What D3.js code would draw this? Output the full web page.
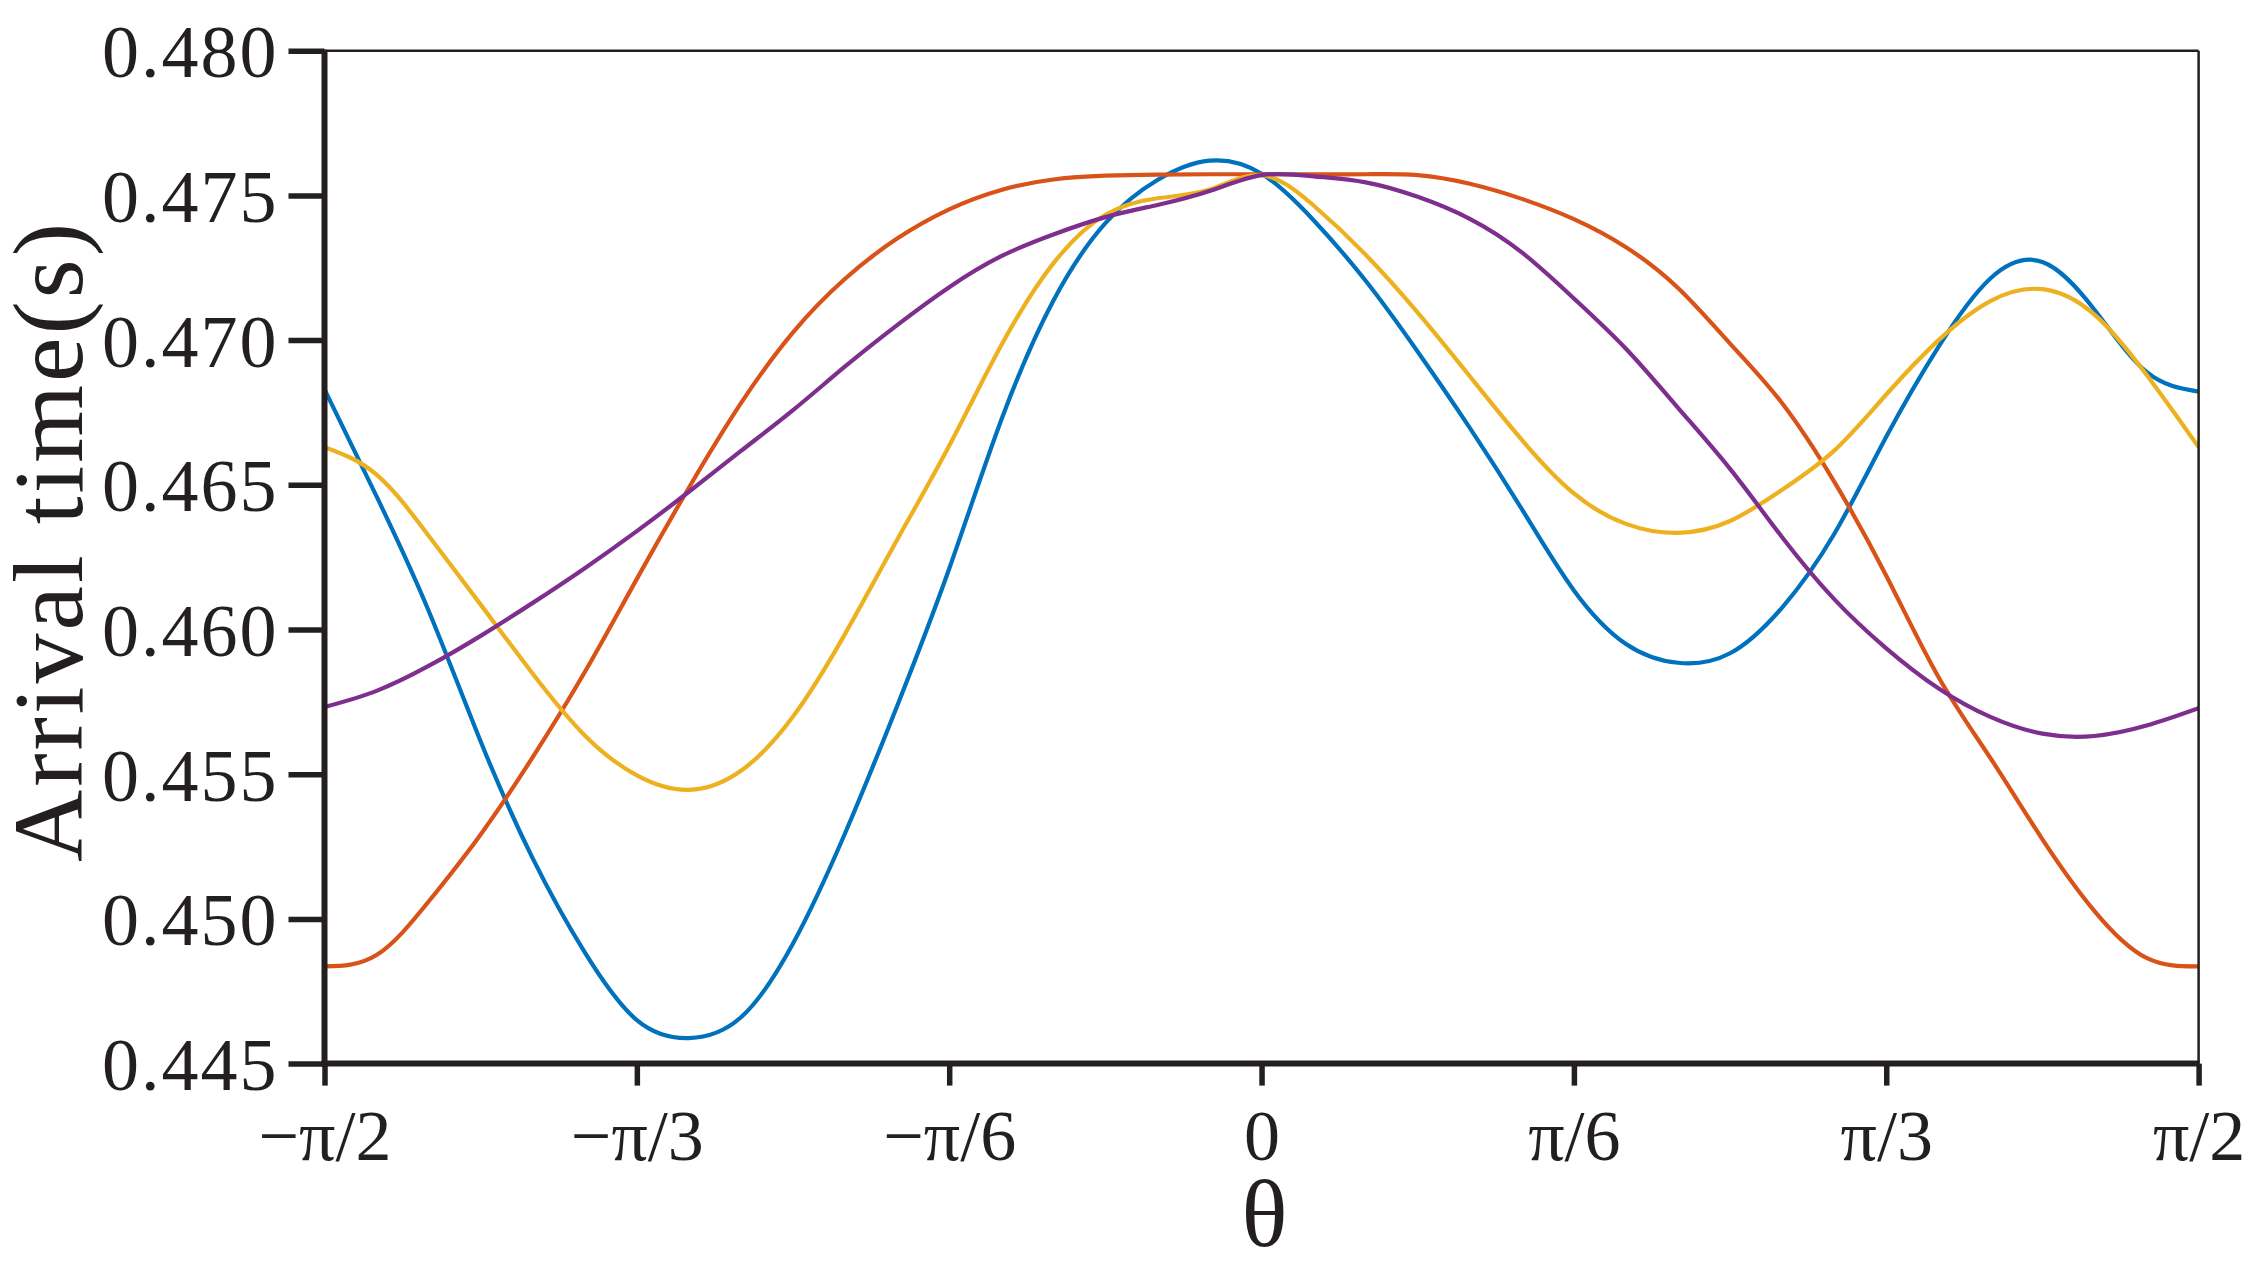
<!DOCTYPE html>
<html>
<head>
<meta charset="utf-8">
<script src="https://cdn.jsdelivr.net/npm/d3@7"></script>
<style>
body { margin: 0; background: #fff; }
#sketch1 { width: 2261px; height: 1266px; }
text { font-family: "Liberation Serif", "Times New Roman", Times, serif; fill: #231f20; }
</style>
</head>
<body>
<div id="sketch1"></div>
<script>
// theta in degrees, -90..90 every 5
var theta = [-90,-85,-80,-75,-70,-65,-60,-55,-50,-45,-40,-35,-30,-25,-20,-15,-10,-5,0,
             5,10,15,20,25,30,35,40,45,50,55,60,65,70,75,80,85,90];

var blue = [0.4683,0.4646,0.46065,0.45613,0.45209,0.44884,0.4465,0.44588,0.4466,0.44915,0.45296,0.45736,0.4621,0.46724,0.47136,0.47404,0.47553,0.4762,0.47575,
            0.47414,0.47205,0.4696,0.46697,0.46416,0.46135,0.4595,0.45885,0.45918,0.46076,0.4633,0.46666,0.46976,0.47213,0.4727,0.47105,0.4689,0.46822];

var orange = [0.44836,0.44875,0.4506,0.45292,0.45559,0.45853,0.46175,0.4649,0.46782,0.47027,0.47212,0.47351,0.47452,0.47519,0.47555,0.47568,0.47572,0.47573,0.47573,
              0.47573,0.47573,0.4757,0.4754,0.47488,0.47418,0.47321,0.4718,0.46988,0.46782,0.46511,0.46186,0.45837,0.45556,0.45275,0.45027,0.44865,0.44836];

var yellow = [0.4663,0.46535,0.46324,0.46086,0.45847,0.45634,0.45496,0.45446,0.45512,0.45699,0.45985,0.4631,0.46635,0.46982,0.47265,0.47433,0.4749,0.4752,0.4757,
              0.47465,0.47295,0.47095,0.46875,0.46655,0.4647,0.46365,0.46334,0.46375,0.46483,0.46618,0.46812,0.46999,0.47135,0.47176,0.47088,0.4688,0.4663];

var purple = [0.45732,0.45788,0.45874,0.45978,0.46092,0.46212,0.4634,0.46476,0.46617,0.46758,0.46909,0.47052,0.47183,0.4729,0.47365,0.47425,0.47467,0.47515,0.4757,
              0.47566,0.47545,0.47495,0.47419,0.47303,0.47144,0.4697,0.46766,0.46555,0.46319,0.46105,0.45935,0.45797,0.45698,0.4564,0.45632,0.45668,0.45728];

var xTicks = [-90,-60,-30,0,30,60,90];
var xTickLabels = ["\u2212\u03c0/2","\u2212\u03c0/3","\u2212\u03c0/6","0","\u03c0/6","\u03c0/3","\u03c0/2"];
var yTicks = [0.445,0.450,0.455,0.460,0.465,0.470,0.475,0.480];

var seriesColors = ["#0072bd","#d95319","#edb120","#7e2f8e"];

var margin = {t:50.7,r:62.4,b:202.4,l:324.5};
var width = document.getElementById('sketch1').clientWidth - margin.r - margin.l,
    height = document.getElementById('sketch1').clientHeight - margin.t - margin.b;

var svg = d3.select('#sketch1')
    .append('svg')
    .attr('width',width+margin.r+margin.l)
    .attr('height',height+margin.t+margin.b);

var plot = svg.append('g')
    .attr('transform','translate('+margin.l+','+margin.t+')');

var scaleX = d3.scaleLinear().domain([-90,90]).range([0,width]);
var scaleY = d3.scaleLinear().domain([0.445,0.480]).range([height,0]);

plot.append("clipPath").attr("id","clip")
    .append("rect").attr("width",width).attr("height",height);

var line = d3.line()
    .x(function(d){return scaleX(d.t)})
    .y(function(d){return scaleY(d.v)})
    .curve(d3.curveNatural);

var allSeries = [blue,orange,yellow,purple];

plot.selectAll(".curve")
    .data(allSeries)
    .enter()
    .append("path")
    .attr("class","curve")
    .attr("clip-path","url(#clip)")
    .attr("d", function(vals){
        return line(vals.map(function(v,i){return {t:theta[i], v:v}}));
    })
    .attr("fill","none")
    .attr("stroke", function(d,i){return seriesColors[i]})
    .attr("stroke-width",4.2);

// box: thin top/right, heavy left/bottom
plot.append("line").attr("x1",0).attr("x2",width).attr("y1",0).attr("y2",0)
    .attr("stroke","#231f20").attr("stroke-width",2.5);
plot.append("line").attr("x1",width).attr("x2",width).attr("y1",0).attr("y2",height)
    .attr("stroke","#231f20").attr("stroke-width",2.5);

var axisY = plot.append("g")
    .attr("class","axis axis--y")
    .call(d3.axisLeft(scaleY).tickValues(yTicks).tickSize(36).tickFormat(d3.format(".3f")));

var axisX = plot.append("g")
    .attr("class","axis axis--x")
    .attr("transform","translate(0,"+height+")")
    .call(d3.axisBottom(scaleX).tickValues(xTicks).tickSize(22)
        .tickFormat(function(d,i){return xTickLabels[i]}));

svg.selectAll(".axis .domain").remove();
svg.selectAll(".axis .tick line").attr("stroke","#231f20").attr("stroke-width",5.5);

axisY.selectAll("text")
    .attr("x",-46).attr("dy",null).attr("y",26)
    .attr("fill","#231f20")
    .style("font-size","74px").style("letter-spacing","2px");

axisX.selectAll("text")
    .attr("y",96.4).attr("dy",null)
    .attr("fill","#231f20")
    .style("font-size","72px");

plot.append("line").attr("x1",0).attr("x2",0).attr("y1",-1).attr("y2",height+3)
    .attr("stroke","#231f20").attr("stroke-width",6);
plot.append("line").attr("x1",-3).attr("x2",width+1).attr("y1",height).attr("y2",height)
    .attr("stroke","#231f20").attr("stroke-width",6);

svg.append("text")
    .attr("transform","translate(82,541) rotate(-90)")
    .attr("text-anchor","middle")
    .style("font-size","100px").style("letter-spacing","3px")
    .text("Arrival time(s)");

svg.append("text")
    .attr("x", margin.l + width/2 + 3)
    .attr("y", 1246)
    .attr("text-anchor","middle")
    .style("font-size","96px")
    .text("\u03b8");
</script>
</body>
</html>
